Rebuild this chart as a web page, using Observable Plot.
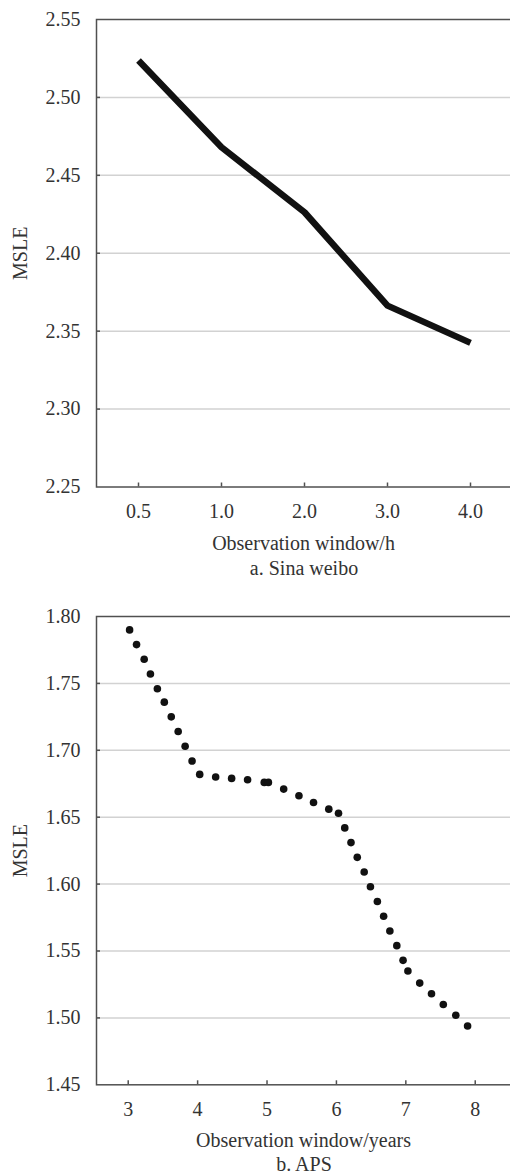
<!DOCTYPE html>
<html>
<head>
<meta charset="utf-8">
<script src="https://cdn.jsdelivr.net/npm/d3@7"></script>
<script src="https://cdn.jsdelivr.net/npm/@observablehq/plot@0.6"></script>
<style>
  html, body { margin: 0; padding: 0; background: #fff; overflow: hidden; }
  #root { width: 510px; font-family: "Liberation Serif", "Times New Roman", serif; color: #333; }
  #root svg { display: block; }
  .cap { margin-left: 96px; width: 416px; text-align: center; font-size: 20px; white-space: nowrap; }
  .capA { padding-top: 2px; line-height: 24px; height: 24px; }
  .capB { padding-top: 0; line-height: 20px; height: 20px; }
</style>
</head>
<body>
<div id="root"></div>
<script>
// ---- Panel a: Sina weibo ----
const weiboWindows = ["0.5", "1.0", "2.0", "3.0", "4.0"];
const weiboMSLE = [2.5237, 2.468, 2.4263, 2.3664, 2.3425];
const weiboYTicks = [2.25, 2.30, 2.35, 2.40, 2.45, 2.50, 2.55];
const weiboGrid = [2.30, 2.35, 2.40, 2.45, 2.50];
const weiboXLabel = "Observation window/h";
const weiboCaption = "a. Sina weibo";

// ---- Panel b: APS ----
const apsWindows = [3.02, 3.12, 3.23, 3.32, 3.42, 3.52, 3.62, 3.72, 3.82, 3.92, 4.03, 4.26, 4.49, 4.72, 4.96, 5.02, 5.24, 5.46, 5.67, 5.89, 6.03, 6.12, 6.21, 6.30, 6.40, 6.49, 6.59, 6.68, 6.77, 6.87, 6.96, 7.03, 7.20, 7.37, 7.54, 7.72, 7.89];
const apsMSLE = [1.790, 1.779, 1.768, 1.757, 1.746, 1.736, 1.725, 1.714, 1.703, 1.692, 1.682, 1.680, 1.679, 1.678, 1.676, 1.676, 1.671, 1.666, 1.661, 1.656, 1.653, 1.642, 1.631, 1.620, 1.609, 1.598, 1.587, 1.576, 1.565, 1.554, 1.543, 1.535, 1.526, 1.518, 1.510, 1.502, 1.494];
const apsXTicks = [3, 4, 5, 6, 7, 8];
const apsYTicks = [1.45, 1.50, 1.55, 1.60, 1.65, 1.70, 1.75, 1.80];
const apsGrid = [1.50, 1.55, 1.60, 1.65, 1.70, 1.75];
const apsXLabel = "Observation window/years";
const apsCaption = "b. APS";

const yLabel = "MSLE";
const FONT = "Liberation Serif, Times New Roman, serif";
const FS = 20;
const INK = "#333";
const AXIS = "#505050";
const GRID = "#d2d2d2";

function panel({xScale, xTicks, xFormat, yDomain, yTicks, grid, mark, xLabel, height, marginTop, marginBottom}) {
  const frameW = 510 - 96;
  const frameH = height - marginTop - marginBottom;
  return Plot.plot({
    width: 510,
    height,
    marginLeft: 96,
    marginRight: 0,
    marginTop,
    marginBottom,
    style: {fontFamily: FONT, fontSize: FS + "px", color: INK, background: "#fff", overflow: "hidden"},
    x: xScale,
    y: {domain: yDomain},
    marks: [
      Plot.ruleY(grid, {stroke: GRID, strokeWidth: 1.5}),
      Plot.ruleY(grid, {stroke: AXIS, strokeWidth: 1.5, insetRight: frameW - 4}),
      Plot.ruleX(xTicks, {x: d => d, stroke: AXIS, strokeWidth: 1.5, insetTop: frameH - 4}),
      Plot.frame({stroke: AXIS, strokeWidth: 1.5, insetRight: -6}),
      mark,
      Plot.axisY({ticks: yTicks, tickFormat: d => d.toFixed(2), tickSize: 0, tickPadding: 16, label: null, fontSize: FS}),
      Plot.axisX({ticks: xTicks, tickFormat: xFormat, tickSize: 0, tickPadding: 16.5, label: null, fontSize: FS}),
      Plot.text([xLabel], {text: d => d, frameAnchor: "bottom", dy: 62.5, fontSize: FS, fill: INK}),
      Plot.text([yLabel], {text: d => d, y: () => d3.mean(yDomain), frameAnchor: "left", textAnchor: "middle", lineAnchor: "middle", dx: -76, rotate: -90, fontSize: FS, fill: INK})
    ]
  });
}

const root = document.getElementById("root");

const weiboData = weiboWindows.map((w, i) => ({w, v: weiboMSLE[i]}));
root.appendChild(panel({
  xScale: {type: "point", domain: weiboWindows, range: [96, 512], padding: 0.5},
  xTicks: weiboWindows,
  xFormat: d => d,
  yDomain: [2.25, 2.55],
  yTicks: weiboYTicks,
  grid: weiboGrid,
  mark: Plot.line(weiboData, {x: "w", y: "v", stroke: "#111", strokeWidth: 6.5, strokeLinejoin: "round", strokeLinecap: "butt"}),
  xLabel: weiboXLabel,
  height: 554,
  marginTop: 19,
  marginBottom: 67.5
}));
const capA = document.createElement("div");
capA.className = "cap capA";
capA.textContent = weiboCaption;
root.appendChild(capA);

const apsData = apsWindows.map((w, i) => ({w, v: apsMSLE[i]}));
root.appendChild(panel({
  xScale: {type: "linear", domain: [2.543, 8.537], range: [96, 512]},
  xTicks: apsXTicks,
  xFormat: d => String(d),
  yDomain: [1.45, 1.80],
  yTicks: apsYTicks,
  grid: apsGrid,
  mark: Plot.dot(apsData, {x: "w", y: "v", r: 3.8, fill: "#111", stroke: "none"}),
  xLabel: apsXLabel,
  height: 574,
  marginTop: 36,
  marginBottom: 69.7
}));
const capB = document.createElement("div");
capB.className = "cap capB";
capB.textContent = apsCaption;
root.appendChild(capB);
</script>
</body>
</html>
